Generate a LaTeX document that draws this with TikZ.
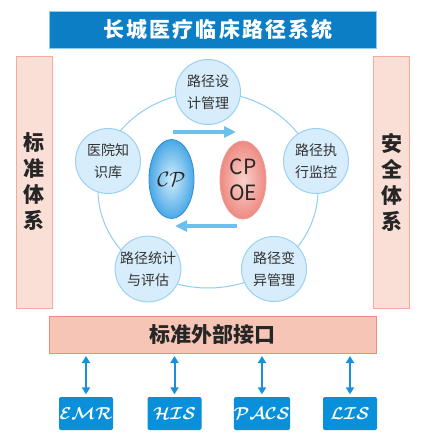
\documentclass[tikz,border=0pt]{standalone}
\usepackage{fontspec}
\newfontfamily\cjk{Noto Sans CJK SC}
\newfontfamily\cjkwide[LetterSpace=10]{Noto Sans CJK SC}
\usetikzlibrary{arrows.meta,shapes.geometric}
\definecolor{titleblue}{HTML}{0B7EC6}
\definecolor{titleedge}{HTML}{8FCBEF}
\definecolor{sidefill}{HTML}{FADFD6}
\definecolor{sideedge}{HTML}{F5A99C}
\definecolor{barfill}{HTML}{F6C5B5}
\definecolor{baredge}{HTML}{EF8A82}
\definecolor{ringcol}{HTML}{8ECFF1}
\definecolor{nodefill}{HTML}{D7EDFB}
\definecolor{nodeedge}{HTML}{9BD2F1}
\definecolor{cpin}{HTML}{D2EDFC}
\definecolor{cpout}{HTML}{4AA8E6}
\definecolor{cpedge}{HTML}{2A8FD6}
\definecolor{oein}{HTML}{FAD2CC}
\definecolor{oeout}{HTML}{EE8A82}
\definecolor{oeedge}{HTML}{EC9A92}
\definecolor{lightarrow}{HTML}{6CC0EE}
\definecolor{darkarrow}{HTML}{1A8FDA}
\definecolor{boxblue}{HTML}{0A90DA}
\definecolor{txt}{HTML}{333333}
\tikzset{
  x=1pt, y=-1pt,
  titlebox/.style={draw=titleedge, line width=1pt, fill=titleblue, minimum width=327pt, minimum height=37pt, inner sep=0pt,
    font=\cjkwide\bfseries\fontsize{21}{24}\selectfont, text=white},
  sidebox/.style={draw=sideedge, line width=1pt, fill=sidefill, minimum width=36pt, minimum height=252pt, inner sep=0pt,
    align=center, font=\cjk\bfseries\fontsize{21}{26}\selectfont, text=black!85},
  barbox/.style={draw=baredge, line width=1pt, fill=barfill, minimum width=327pt, minimum height=37pt, inner sep=0pt,
    font=\cjk\bfseries\fontsize{21}{24}\selectfont, text=black!85},
  ring/.style={draw=ringcol, line width=1pt},
  stage/.style={circle, draw=nodeedge, line width=1pt, fill=nodefill, minimum size=65pt, inner sep=0pt,
    align=center, font=\cjk\fontsize{14}{22}\selectfont, text=txt},
  cpnode/.style={ellipse, draw=cpedge, line width=0.8pt, inner color=cpin, outer color=cpout,
    minimum width=45pt, minimum height=79pt, inner sep=0pt, text=black!85},
  oenode/.style={ellipse, draw=oeedge, line width=0.8pt, inner color=oein, outer color=oeout,
    minimum width=46pt, minimum height=78pt, inner sep=0pt, align=center,
    font=\cjk\fontsize{21}{26}\selectfont, text=black!85},
  bigarrow/.style={draw=lightarrow, line width=4pt, -{Triangle[length=12pt,width=11pt]}},
  dblarrow/.style={draw=darkarrow, line width=2pt, {Triangle[length=7pt,width=8pt]}-{Triangle[length=7pt,width=8pt]}},
  sysbox/.style={fill=boxblue, rounded corners=2pt, minimum width=54pt, minimum height=33pt, inner sep=0pt,
    text=white, font=\boldmath\fontsize{18}{20}\selectfont},
}
\begin{document}
\begin{tikzpicture}
\useasboundingbox (0,0) rectangle (431,445);
\fill[white] (0,0) rectangle (431,445);

\node[titlebox] (title) at (213,29.5) {\hspace*{10pt}长城医疗临床路径系统};
\node[sidebox] (left) at (34,182) {标\\准\\体\\系};
\node[sidebox] (right) at (391.5,182) {安\\全\\体\\系};
\node[barbox] (bar) at (212.5,334.5) {标准外部接口};

\draw[ring] (208,190) ellipse [x radius=110, y radius=98];

\node[stage] (design) at (208,92) {路径设\\计管理};
\node[stage] (kb) at (108,161) {医院知\\识库};
\node[stage] (exec) at (316,161) {路径执\\行监控};
\node[stage] (stat) at (148,269) {路径统计\\与评估};
\node[stage] (var) at (274,269) {路径变\\异管理};

\node[cpnode] (cp) at (171.5,179) {\fontsize{20}{24}\selectfont$\mathcal{CP}$};
\node[oenode] (cpoe) at (243,180) {CP\\OE};

\coordinate (a1s) at (173,132);
\coordinate (a1e) at (236,132);
\coordinate (a2s) at (237,226);
\coordinate (a2e) at (175,226);
\draw[bigarrow] (a1s) -- (a1e);
\draw[bigarrow] (a2s) -- (a2e);

\node[sysbox] (emr) at (86,413.5) {$\mathcal{EMR}$};
\node[sysbox] (his) at (174.5,413.5) {$\mathcal{HIS}$};
\node[sysbox] (pacs) at (262,413.5) {$\mathcal{PACS}$};
\node[sysbox] (lis) at (350,413.5) {$\mathcal{LIS}$};

\foreach \b in {emr,his,pacs,lis}{
  \draw[dblarrow] ([yshift=-2.5pt]bar.south -| \b.north) -- ([yshift=2.5pt]\b.north);
}
\end{tikzpicture}
\end{document}
